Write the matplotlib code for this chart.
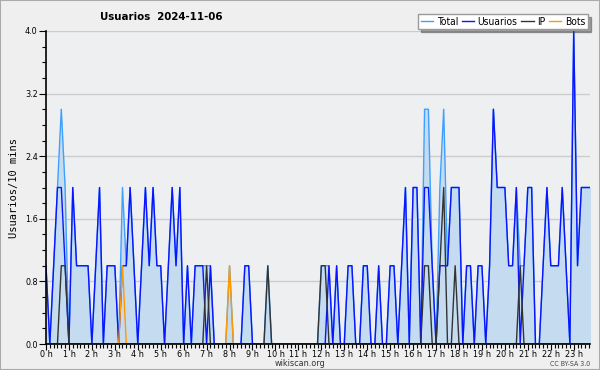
import matplotlib
matplotlib.use('Agg')
import matplotlib.pyplot as plt
from matplotlib.lines import Line2D
import numpy as np

# Valeurs par tranche de 10 minutes (144 points)
total = [1, 0, 1, 2, 3, 2, 0, 2, 1, 1, 1, 1,
         0, 1, 2, 0, 1, 1, 1, 0, 2, 1, 2, 1,
         0, 1, 2, 1, 2, 1, 1, 0, 1, 2, 1, 2,
         0, 1, 0, 1, 1, 1, 1, 1, 0, 0, 0, 0,
         1, 0, 0, 0, 1, 1, 0, 0, 0, 0, 1, 0,
         0, 0, 0, 0, 0, 0, 0, 0, 0, 0, 0, 0,
         1, 1, 1, 0, 1, 0, 0, 1, 1, 0, 0, 1,
         1, 0, 0, 1, 0, 0, 1, 1, 0, 1, 2, 0,
         2, 2, 0, 3, 3, 1, 0, 2, 3, 1, 2, 2,
         2, 0, 1, 1, 0, 1, 1, 0, 1, 3, 2, 2,
         2, 1, 1, 2, 1, 1, 2, 2, 0, 0, 1, 2,
         1, 1, 1, 2, 1, 0, 4, 1, 2, 2, 2, 2]
usuarios = [1, 0, 1, 2, 2, 1, 0, 2, 1, 1, 1, 1,
            0, 1, 2, 0, 1, 1, 1, 0, 1, 1, 2, 1,
            0, 1, 2, 1, 2, 1, 1, 0, 1, 2, 1, 2,
            0, 1, 0, 1, 1, 1, 0, 1, 0, 0, 0, 0,
            0, 0, 0, 0, 1, 1, 0, 0, 0, 0, 0, 0,
            0, 0, 0, 0, 0, 0, 0, 0, 0, 0, 0, 0,
            0, 0, 1, 0, 1, 0, 0, 1, 1, 0, 0, 1,
            1, 0, 0, 1, 0, 0, 1, 1, 0, 1, 2, 0,
            2, 2, 0, 2, 2, 1, 0, 1, 1, 1, 2, 2,
            2, 0, 1, 1, 0, 1, 1, 0, 1, 3, 2, 2,
            2, 1, 1, 2, 0, 1, 2, 2, 0, 0, 1, 2,
            1, 1, 1, 2, 1, 0, 4, 1, 2, 2, 2, 2]
ip = [0, 0, 0, 0, 1, 1, 0, 0, 0, 0, 0, 0,
      0, 0, 0, 0, 0, 0, 0, 0, 0, 0, 0, 0,
      0, 0, 0, 0, 0, 0, 0, 0, 0, 0, 0, 0,
      0, 0, 0, 0, 0, 0, 1, 0, 0, 0, 0, 0,
      0, 0, 0, 0, 0, 0, 0, 0, 0, 0, 1, 0,
      0, 0, 0, 0, 0, 0, 0, 0, 0, 0, 0, 0,
      1, 1, 0, 0, 0, 0, 0, 0, 0, 0, 0, 0,
      0, 0, 0, 0, 0, 0, 0, 0, 0, 0, 0, 0,
      0, 0, 0, 1, 1, 0, 0, 1, 2, 0, 0, 1,
      0, 0, 0, 0, 0, 0, 0, 0, 0, 0, 0, 0,
      0, 0, 0, 0, 1, 0, 0, 0, 0, 0, 0, 0,
      0, 0, 0, 0, 0, 0, 0, 0, 0, 0, 0, 0]
bots = [0, 0, 0, 0, 0, 0, 0, 0, 0, 0, 0, 0,
        0, 0, 0, 0, 0, 0, 0, 0, 1, 0, 0, 0,
        0, 0, 0, 0, 0, 0, 0, 0, 0, 0, 0, 0,
        0, 0, 0, 0, 0, 0, 0, 0, 0, 0, 0, 0,
        1, 0, 0, 0, 0, 0, 0, 0, 0, 0, 0, 0,
        0, 0, 0, 0, 0, 0, 0, 0, 0, 0, 0, 0,
        0, 0, 0, 0, 0, 0, 0, 0, 0, 0, 0, 0,
        0, 0, 0, 0, 0, 0, 0, 0, 0, 0, 0, 0,
        0, 0, 0, 0, 0, 0, 0, 0, 0, 0, 0, 0,
        0, 0, 0, 0, 0, 0, 0, 0, 0, 0, 0, 0,
        0, 0, 0, 0, 0, 0, 0, 0, 0, 0, 0, 0,
        0, 0, 0, 0, 0, 0, 0, 0, 0, 0, 0, 0]
heures = [f'{h} h' for h in range(24)]
yticks = [0.0, 0.8, 1.6, 2.4, 3.2, 4.0]
noms = ['Total', 'Usuarios', 'IP', 'Bots']
couleurs = ['#3fa0ff', '#0a14ff', '#333333', '#ff9900']

t = np.arange(len(total)) / 6.0
cond = dict(family='DejaVu Sans', stretch='condensed')

bg = '#efefef'
fig = plt.figure(figsize=(6, 3.7), dpi=100, facecolor=bg)
ax = fig.add_axes([46 / 600, 1 - 344 / 370, 544 / 600, 313 / 370])
ax.set_facecolor('#eeeff1')

ax.fill_between(t, total, 0, color='#c5dcf0', lw=0)
for serie, c in zip([total, usuarios, ip, bots], couleurs):
    ax.plot(t, serie, color=c, lw=1.0)

ax.set_xlim(0, 23.71)
ax.set_ylim(0, 4.0)
ax.set_yticks(yticks)
ax.set_yticklabels([f'{v:.1f}' for v in yticks], fontsize=6.5, **cond)
ax.set_yticks(np.arange(0, 4.01, 0.2), minor=True)
ax.set_xticks(range(24))
ax.set_xticklabels(heures, fontsize=6.5, **cond)
ax.set_xticks(np.arange(0, 23.71, 1 / 6), minor=True)
ax.tick_params(axis='both', which='both', direction='out', width=0.8, color='black')
ax.tick_params(axis='y', which='major', length=5, pad=1)
ax.tick_params(axis='y', which='minor', length=3)
ax.tick_params(axis='x', which='major', length=4, pad=0)
ax.tick_params(axis='x', which='minor', length=3)
ax.grid(axis='y', color='#cccccc', lw=1)
ax.set_axisbelow(True)
for s in ['top', 'right']:
    ax.spines[s].set_visible(False)
ax.spines['left'].set_linewidth(1.2)
ax.spines['bottom'].set_linewidth(1.2)

ax.set_ylabel('Usuarios/10 mins', fontsize=7.5, family='DejaVu Sans Mono', labelpad=4)

fig.text(100 / 600, 1 - 17 / 370, 'Usuarios  2024-11-06', fontsize=8.2, fontweight='bold',
         ha='left', va='center', **cond)

poignees = [Line2D([], [], color=c, lw=1.0) for c in couleurs]
leg = fig.legend(poignees, noms, loc='upper right',
                 bbox_to_anchor=(588 / 600, 1 - 14 / 370), ncol=4,
                 prop=dict(size=7.4, **cond),
                 frameon=True, fancybox=False, shadow=True, handlelength=1.2,
                 handletextpad=0.35, columnspacing=0.35, borderpad=0.25, borderaxespad=0)
leg.get_frame().set_edgecolor('#999999')
leg.get_frame().set_facecolor('white')

fig.text(0.5, 1 - 364 / 370, 'wikiscan.org', fontsize=6.5, ha='center', va='center',
         color='#333333', **cond)
fig.text(590 / 600, 1 - 364 / 370, 'CC BY-SA 3.0', fontsize=5, ha='right', va='center',
         color='#444444', **cond)

fig.patches.append(plt.Rectangle((0, 0), 1, 1, transform=fig.transFigure, fill=False,
                                 edgecolor='#aaaaaa', lw=1.5))

fig.savefig('out.png', dpi=100, facecolor=bg)
